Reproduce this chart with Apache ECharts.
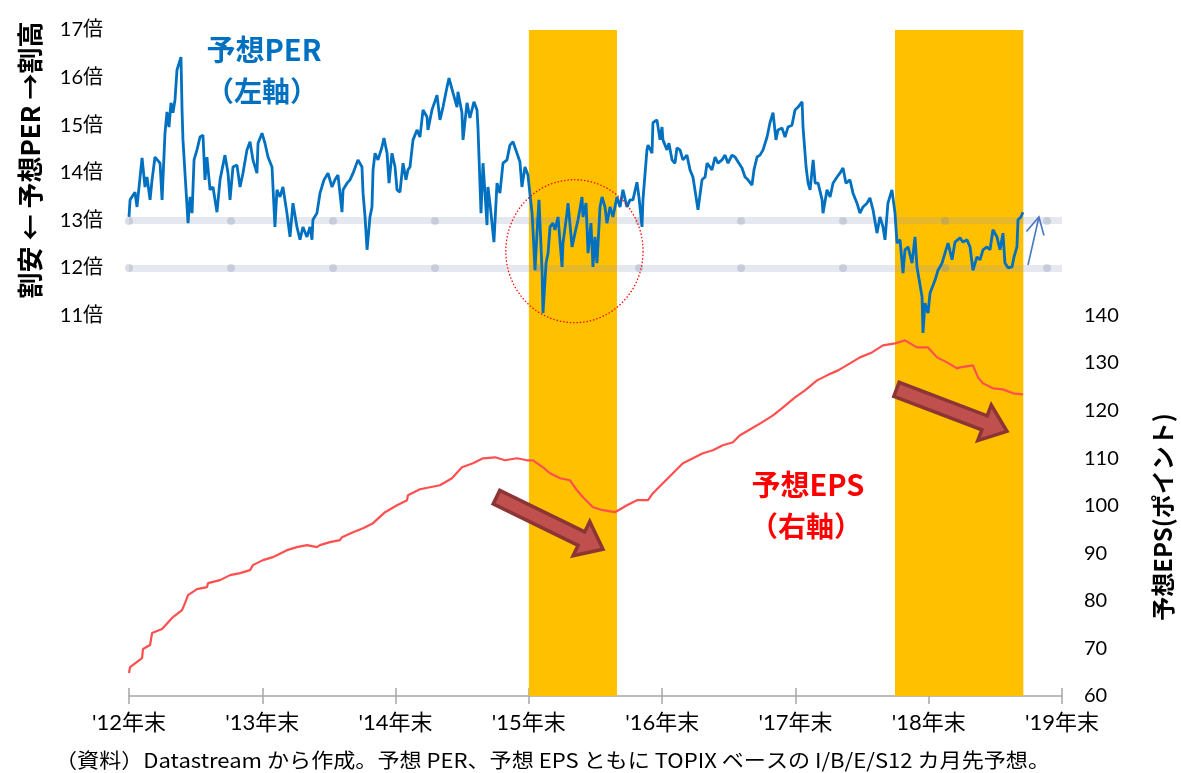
<!DOCTYPE html>
<html><head><meta charset="utf-8">
<script src="https://cdn.jsdelivr.net/npm/echarts/dist/echarts.min.js"></script>
<style>html,body{margin:0;padding:0;background:#fff}#c{width:1181px;height:773px}</style>
</head><body><div id="c"></div>
<script>
// ---- DATA ----
const xTickLabels = ["'12年末","'13年末","'14年末","'15年末","'16年末","'17年末","'18年末","'19年末"];
const perTickMin = 11; // lowest labelled PER tick
const epsTickMax = 140; // highest labelled EPS tick
const shadeRanges = [[2016.0, 2016.661], [2018.747, 2019.71]];
const levelLines = [12, 13];

const perYears = [2013.000,2013.008,2013.045,2013.060,2013.098,2013.120,2013.135,2013.158,2013.173,2013.195,2013.210,2013.233,2013.248,2013.270,2013.285,2013.300,2013.315,2013.330,2013.345,2013.360,2013.390,2013.398,2013.405,2013.420,2013.443,2013.458,2013.473,2013.488,2013.510,2013.533,2013.555,2013.570,2013.585,2013.608,2013.630,2013.660,2013.683,2013.720,2013.743,2013.758,2013.780,2013.810,2013.833,2013.855,2013.885,2013.908,2013.930,2013.960,2013.968,2013.998,2014.020,2014.043,2014.073,2014.095,2014.110,2014.133,2014.155,2014.185,2014.208,2014.230,2014.260,2014.283,2014.305,2014.335,2014.358,2014.373,2014.380,2014.410,2014.433,2014.463,2014.493,2014.523,2014.545,2014.568,2014.598,2014.606,2014.636,2014.658,2014.681,2014.718,2014.748,2014.756,2014.771,2014.786,2014.808,2014.823,2014.831,2014.846,2014.868,2014.898,2014.913,2014.936,2014.951,2014.973,2014.996,2015.011,2015.033,2015.056,2015.078,2015.093,2015.108,2015.131,2015.161,2015.183,2015.206,2015.236,2015.243,2015.273,2015.311,2015.333,2015.356,2015.386,2015.401,2015.431,2015.461,2015.468,2015.498,2015.506,2015.536,2015.558,2015.588,2015.611,2015.618,2015.641,2015.656,2015.671,2015.686,2015.693,2015.708,2015.738,2015.761,2015.783,2015.806,2015.836,2015.858,2015.881,2015.911,2015.933,2015.948,2015.971,2015.993,2016.024,2016.031,2016.046,2016.061,2016.076,2016.099,2016.106,2016.129,2016.144,2016.159,2016.181,2016.196,2016.219,2016.249,2016.256,2016.286,2016.294,2016.324,2016.346,2016.369,2016.399,2016.406,2016.429,2016.444,2016.466,2016.481,2016.496,2016.511,2016.534,2016.549,2016.571,2016.586,2016.609,2016.631,2016.661,2016.684,2016.706,2016.736,2016.759,2016.781,2016.811,2016.826,2016.849,2016.856,2016.886,2016.894,2016.924,2016.931,2016.961,2016.984,2016.999,2017.006,2017.036,2017.051,2017.074,2017.096,2017.111,2017.134,2017.156,2017.186,2017.209,2017.231,2017.246,2017.269,2017.299,2017.322,2017.337,2017.374,2017.397,2017.419,2017.449,2017.472,2017.494,2017.524,2017.547,2017.569,2017.599,2017.622,2017.644,2017.674,2017.689,2017.712,2017.734,2017.757,2017.787,2017.809,2017.832,2017.854,2017.869,2017.899,2017.922,2017.944,2017.974,2017.997,2018.020,2018.050,2018.057,2018.080,2018.095,2018.110,2018.133,2018.148,2018.170,2018.200,2018.207,2018.237,2018.260,2018.282,2018.312,2018.334,2018.357,2018.379,2018.409,2018.432,2018.462,2018.484,2018.507,2018.537,2018.559,2018.582,2018.612,2018.634,2018.657,2018.672,2018.694,2018.724,2018.747,2018.762,2018.785,2018.807,2018.822,2018.845,2018.875,2018.897,2018.912,2018.927,2018.950,2018.957,2018.972,2018.995,2019.010,2019.047,2019.070,2019.100,2019.122,2019.145,2019.175,2019.197,2019.235,2019.257,2019.287,2019.310,2019.332,2019.362,2019.385,2019.407,2019.437,2019.460,2019.482,2019.512,2019.535,2019.557,2019.572,2019.595,2019.625,2019.640,2019.662,2019.670,2019.692,2019.707];
const perValues = [13.07,13.43,13.59,13.28,14.31,13.70,13.91,13.43,13.85,14.33,14.37,14.20,13.43,14.83,15.28,14.96,15.47,15.26,15.53,16.16,16.43,15.32,14.69,13.99,12.94,13.49,13.15,14.27,14.48,14.75,14.79,13.85,14.33,13.64,13.70,13.17,13.85,14.37,13.99,13.43,14.12,14.16,13.70,13.99,14.48,14.65,14.27,13.99,14.62,14.83,14.62,14.33,14.12,12.86,13.64,13.49,13.70,13.15,12.65,13.36,12.86,12.59,12.86,12.65,12.86,12.59,13.01,13.15,13.57,13.85,13.99,13.70,13.85,13.95,13.17,13.64,13.78,13.85,13.99,14.27,14.12,13.57,13.07,12.38,13.07,13.28,14.06,14.41,14.27,14.54,14.73,14.41,13.78,14.41,14.12,13.64,13.59,14.20,13.85,14.06,14.12,14.69,14.90,14.75,15.32,15.17,14.90,15.32,15.63,15.11,15.38,15.80,15.99,15.68,15.38,15.70,15.26,14.69,15.47,15.15,15.49,15.32,14.96,13.15,14.20,13.57,12.90,13.70,13.36,12.54,13.78,13.57,14.20,14.27,14.58,14.65,14.41,14.23,13.70,14.12,13.95,13.15,12.80,11.95,12.73,13.43,11.95,11.05,12.10,12.31,12.86,12.94,12.80,13.07,12.02,12.52,13.15,13.36,12.44,12.73,13.01,13.49,13.07,13.36,12.31,12.94,12.02,12.65,12.10,13.28,13.49,13.28,12.94,13.28,13.07,13.49,13.28,13.64,13.28,13.43,13.43,13.80,13.49,12.86,13.43,14.48,14.58,14.41,15.05,15.11,14.69,14.96,14.69,14.48,14.62,14.27,14.20,14.52,14.48,14.27,14.37,14.06,13.91,13.64,13.22,13.85,13.91,14.20,14.06,14.33,14.20,14.27,14.37,14.20,14.37,14.33,14.23,14.10,13.91,13.85,13.74,14.06,14.33,14.37,14.48,14.75,15.05,15.26,14.69,14.90,14.94,14.75,14.96,15.00,15.32,15.38,15.49,14.96,14.12,13.78,13.64,14.27,13.78,13.78,13.43,13.15,13.64,13.49,13.78,13.91,13.99,14.10,13.78,13.85,13.57,13.36,13.15,13.28,13.36,13.47,13.22,12.73,13.07,12.86,12.59,13.36,13.64,13.15,12.52,12.59,11.89,12.38,12.44,12.10,12.65,12.02,12.02,11.39,10.63,11.26,11.05,11.47,11.74,11.95,12.10,12.31,12.52,12.17,12.54,12.63,12.54,12.59,12.44,11.95,12.23,12.17,12.38,12.44,12.38,12.80,12.65,12.38,12.73,12.10,12.00,12.02,12.23,12.44,13.01,13.07,13.17];

const epsYears = [2013.000,2013.008,2013.098,2013.105,2013.158,2013.173,2013.248,2013.255,2013.330,2013.398,2013.420,2013.443,2013.510,2013.585,2013.593,2013.683,2013.758,2013.833,2013.908,2013.930,2014.005,2014.080,2014.110,2014.185,2014.260,2014.335,2014.410,2014.433,2014.508,2014.583,2014.598,2014.681,2014.756,2014.831,2014.846,2014.921,2015.011,2015.086,2015.093,2015.183,2015.258,2015.333,2015.348,2015.423,2015.498,2015.581,2015.656,2015.746,2015.821,2015.911,2015.986,2016.031,2016.106,2016.159,2016.234,2016.309,2016.361,2016.406,2016.481,2016.556,2016.646,2016.736,2016.811,2016.894,2016.931,2017.006,2017.081,2017.156,2017.231,2017.306,2017.381,2017.456,2017.531,2017.584,2017.674,2017.749,2017.832,2017.907,2017.997,2018.072,2018.162,2018.237,2018.320,2018.409,2018.484,2018.574,2018.657,2018.747,2018.822,2018.912,2018.995,2019.062,2019.137,2019.212,2019.235,2019.332,2019.370,2019.407,2019.482,2019.557,2019.632,2019.707];
const epsValues = [64.83,66.09,67.98,69.87,70.71,73.23,74.07,74.49,76.59,78.06,79.53,81.21,82.47,82.89,83.73,84.36,85.41,85.83,86.46,87.51,88.56,89.19,89.61,90.66,91.29,91.71,91.29,91.71,92.34,92.76,93.39,94.44,95.28,96.33,96.54,98.64,100.11,101.16,102.21,103.47,103.89,104.30,104.72,105.77,108.08,108.92,109.97,110.18,109.55,109.97,109.55,109.55,108.08,106.82,105.77,105.35,103.25,101.79,99.69,99.06,98.64,100.11,101.16,101.16,102.63,104.72,106.82,108.92,109.97,111.02,111.65,112.70,113.33,114.80,116.27,117.53,119.00,120.68,122.78,124.25,126.35,127.40,128.45,129.92,131.18,132.23,133.70,134.12,134.75,133.28,133.28,131.18,130.13,128.87,129.08,129.50,126.98,125.72,124.67,124.46,123.62,123.41];

// annotation anchors in data space
const circleAnchor = [2016.342, 12.35];
const epsArrows = [[[2015.757, 101.8], [2016.556, 90.86]], [[2018.758, 124.46], [2019.587, 115.64]]];
const perArrow = [[2019.745, 12.06], [2019.827, 13.07]];
const footnote = '（資料）Datastream から作成。予想 PER、予想 EPS ともに TOPIX ベースの I/B/E/S12 カ月先予想。';

// ---- CHART ----
const FONT = "Lato, 'Noto Sans CJK JP', sans-serif";
const JFONT = "'Noto Sans CJK JP', sans-serif";
const chart = echarts.init(document.getElementById('c'), null, {renderer: 'canvas'});
const perData = perYears.map((x, i) => [x, perValues[i]]);
const epsData = epsYears.map((x, i) => [x, epsValues[i]]);
const axisGray = '#A6A6A6';

const option = {
  animation: false,
  backgroundColor: '#fff',
  grid: [
    {left: 129, right: 119, top: 30, bottom: 77},
    {left: 129, right: 119, top: 30, bottom: 77}
  ],
  xAxis: [{
    type: 'value', gridIndex: 0, min: 2013, max: 2020, interval: 1,
    axisLine: {lineStyle: {color: axisGray, width: 1.5}},
    axisTick: {length: 8, lineStyle: {color: axisGray, width: 1.5}},
    splitLine: {show: false},
    axisLabel: {formatter: v => xTickLabels[Math.round(v - 2013)] || '', fontSize: 22, color: '#000', margin: 16, fontFamily: FONT}
  }, {
    type: 'value', gridIndex: 1, min: 2013, max: 2020, interval: 1, position: 'bottom',
    axisLine: {show: false},
    axisTick: {inside: true, length: 8, lineStyle: {color: axisGray, width: 1.5}},
    splitLine: {show: false}, axisLabel: {show: false}
  }],
  yAxis: [{
    type: 'value', gridIndex: 0, min: 3, max: 17, interval: 1, position: 'left',
    axisLine: {show: false}, axisTick: {show: false}, splitLine: {show: false},
    axisLabel: {formatter: v => v >= perTickMin ? v + '倍' : '', fontSize: 20, color: '#000', margin: 26, fontFamily: FONT}
  }, {
    type: 'value', gridIndex: 0, min: 60, max: 200, interval: 10, position: 'right',
    axisLine: {show: false}, axisTick: {show: false}, splitLine: {show: false},
    axisLabel: {formatter: v => v <= epsTickMax ? String(v) : '', fontSize: 20, color: '#000', margin: 22, fontFamily: FONT}
  }, {
    type: 'value', gridIndex: 1, show: false, min: 0, max: 1
  }],
  series: [{
    name: 'shade', type: 'line', xAxisIndex: 0, yAxisIndex: 1, data: [], z: 1, silent: true,
    markArea: {silent: true, itemStyle: {color: '#FFC000'},
      data: shadeRanges.map(r => [{xAxis: r[0]}, {xAxis: r[1]}])}
  }, {
    name: '予想PER', type: 'line', xAxisIndex: 0, yAxisIndex: 0, data: perData, z: 5,
    showSymbol: false, clip: false, lineStyle: {color: '#0070C0', width: 2.8}, itemStyle: {color: '#0070C0'}
  }, {
    name: '予想EPS', type: 'line', xAxisIndex: 0, yAxisIndex: 1, data: epsData, z: 5,
    showSymbol: false, lineStyle: {color: '#FF4F4F', width: 2.2}, itemStyle: {color: '#FF4F4F'}
  }, {
    name: 'levels', type: 'line', xAxisIndex: 0, yAxisIndex: 0, data: [], z: 8, silent: true,
    markLine: {silent: true, symbol: ['none', 'none'], label: {show: false},
      data: levelLines.map(v => ({yAxis: v, lineStyle: {color: 'rgba(140,152,180,0.22)', width: 7, type: 'solid'}}))
        .concat(levelLines.map(v => ({yAxis: v, lineStyle: {color: 'rgba(120,132,165,0.28)', width: 8, type: [0.01, 102], cap: 'round'}})))}
  }]
};
chart.setOption(option);

function px(axisY, p) { return chart.convertToPixel({xAxisIndex: 0, yAxisIndex: axisY}, p); }
function arrowPolygon(a, b, shaftHalf, headHalf, headLen) {
  const dx = b[0] - a[0], dy = b[1] - a[1];
  const L = Math.sqrt(dx * dx + dy * dy);
  const ux = dx / L, uy = dy / L, nx = -uy, ny = ux;
  const bx = b[0] - ux * headLen, by = b[1] - uy * headLen;
  return [
    [a[0] + nx * shaftHalf, a[1] + ny * shaftHalf],
    [bx + nx * shaftHalf, by + ny * shaftHalf],
    [bx + nx * headHalf, by + ny * headHalf],
    [b[0], b[1]],
    [bx - nx * headHalf, by - ny * headHalf],
    [bx - nx * shaftHalf, by - ny * shaftHalf],
    [a[0] - nx * shaftHalf, a[1] - ny * shaftHalf]
  ];
}
const graphics = [];
epsArrows.forEach(ar => {
  const a = px(1, ar[0]), b = px(1, ar[1]);
  graphics.push({type: 'polygon', z: 20, shape: {points: arrowPolygon(a, b, 7.5, 19, 24)},
    style: {fill: '#C0504D', stroke: '#8B3634', lineWidth: 3.5, lineJoin: 'miter'}});
});
const c0 = px(0, circleAnchor);
graphics.push({type: 'circle', z: 20, x: c0[0], y: c0[1], scaleX: 0.96, shape: {cx: 0, cy: 0, r: 71.5},
  style: {fill: 'none', stroke: '#FF0000', lineWidth: 1.3, lineDash: [1.5, 2]}});
const pa = px(0, perArrow[0]), pb = px(0, perArrow[1]);
(function () {
  const dx = pb[0] - pa[0], dy = pb[1] - pa[1], L = Math.sqrt(dx * dx + dy * dy);
  const ux = dx / L, uy = dy / L, nx = -uy, ny = ux;
  const hl = 17, hw = 9;
  graphics.push({type: 'polyline', z: 20, shape: {points: [pa, pb]}, style: {stroke: '#4A78C0', lineWidth: 1.6}});
  graphics.push({type: 'polyline', z: 20, shape: {points: [
    [pb[0] - ux * hl + nx * hw, pb[1] - uy * hl + ny * hw], pb, [pb[0] - ux * hl - nx * hw, pb[1] - uy * hl - ny * hw]]},
    style: {stroke: '#4A78C0', lineWidth: 1.6, fill: 'none'}});
})();
// footnote: fit to reference width
const FOOT_FONT = "20px 'Noto Sans CJK JP', sans-serif";
const mctx = document.createElement('canvas').getContext('2d');
mctx.font = FOOT_FONT;
const footW = mctx.measureText(footnote).width || 900;
const footScale = 995 / footW;
graphics.push(
  {type: 'text', z: 30, x: 264, y: 50, style: {text: '予想PER', fill: '#0070C0', font: "bold 29px " + JFONT, align: 'center', verticalAlign: 'middle'}},
  {type: 'text', z: 30, x: 262, y: 91, style: {text: '（左軸）', fill: '#0070C0', font: "bold 28px " + JFONT, align: 'center', verticalAlign: 'middle'}},
  {type: 'text', z: 30, x: 808, y: 485, style: {text: '予想EPS', fill: '#FF0000', font: "bold 29px " + JFONT, align: 'center', verticalAlign: 'middle'}},
  {type: 'text', z: 30, x: 806, y: 526, style: {text: '（右軸）', fill: '#FF0000', font: "bold 28px " + JFONT, align: 'center', verticalAlign: 'middle'}},
  {type: 'text', z: 30, x: 30, y: 160, rotation: Math.PI / 2, style: {text: '割安 ← 予想PER →割高', fill: '#000', font: "bold 26px " + JFONT, align: 'center', verticalAlign: 'middle'}},
  {type: 'text', z: 30, x: 1163, y: 517, rotation: Math.PI / 2, style: {text: '予想EPS(ポイント)', fill: '#000', font: "bold 24px " + JFONT, align: 'center', verticalAlign: 'middle'}},
  {type: 'text', z: 30, x: 55, y: 760, scaleX: footScale, style: {text: footnote, fill: '#000', font: FOOT_FONT, align: 'left', verticalAlign: 'middle'}}
);
chart.setOption({graphic: graphics});
</script></body></html>
